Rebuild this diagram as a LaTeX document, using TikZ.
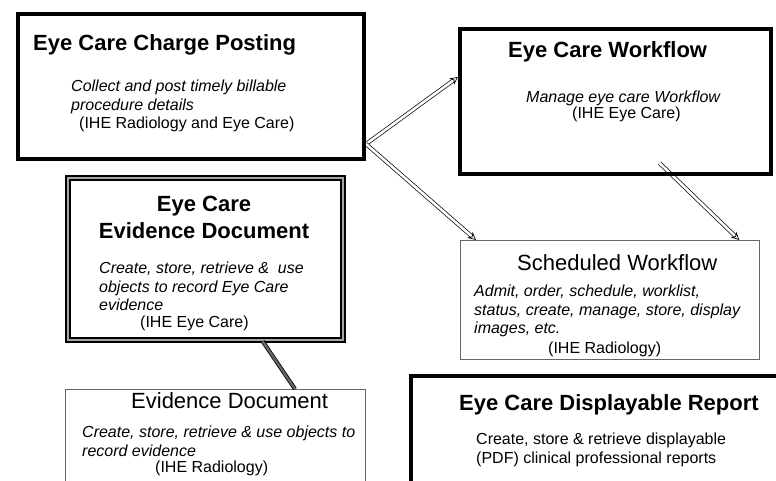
\documentclass[tikz,border=0pt]{standalone}
\usepackage{fontspec}
\setmainfont{Liberation Sans}
\usetikzlibrary{arrows.meta,backgrounds}

\begin{document}
\begin{tikzpicture}
  [x=1pt,y=-1pt,
   box/.style={draw,rectangle,anchor=north west,inner sep=0pt},
   heavy/.style={box,line width=4pt},
   light/.style={box,draw=black!60,line width=1.2pt},
   twin/.style={box,double=black!35,double distance=1.4pt,line width=2.3pt},
   txt/.style={anchor=north west,inner sep=0pt,align=left,font=\fontsize{16}{18.5}\selectfont},
   desc/.style={txt,font=\fontsize{16}{18.5}\selectfont\itshape},
   head/.style={txt,font=\fontsize{22}{27}\selectfont\bfseries},
   plain/.style={txt,font=\fontsize{22}{27}\selectfont},
   hollow/.style={line width=.7pt,double=white,double distance=2.6pt,
                  -{Stealth[open,length=8pt,width=8pt]}}]
  \clip (0,0) rectangle (776,481);

  % boxes
  \node[heavy,minimum width=346,minimum height=145] (cp) at (16,12) {};
  \node[heavy,minimum width=311,minimum height=145] (wf) at (458,27) {};
  \node[twin,minimum width=275,minimum height=162] (ec) at (67,177) {};
  \node[light,minimum width=299,minimum height=119] (sw) at (460,240) {};
  \node[heavy,minimum width=400,minimum height=140] (dr) at (409,374) {};
  \node[light,minimum width=300,minimum height=120] (ed) at (65,389) {};

  % texts
  \node[head] (cpT) at (33,34) {Eye Care Charge Posting};
  \node[desc] (cpD) at (71,80) {Collect and post timely billable\\procedure details};
  \node[txt] (cpS) at (79,117) {(IHE Radiology and Eye Care)};

  \node[head] (wfT) at (508,41) {Eye Care Workflow};
  \node[desc] (wfD) at (526,91) {Manage eye care Workflow};
  \node[txt] (wfS) at (572,107) {(IHE Eye Care)};

  \node[head,anchor=north,align=center] (ecT) at (204,196) {Eye Care\\Evidence Document};
  \node[desc] (ecD) at (99,262) {Create, store, retrieve \&\ \ use\\objects to record Eye Care\\evidence};
  \node[txt] (ecS) at (140,316) {(IHE Eye Care)};

  \node[plain] (swT) at (517,254) {Scheduled Workflow};
  \node[desc] (swD) at (474,285) {Admit, order, schedule, worklist,\\status, create, manage, store, display\\images, etc.};
  \node[txt] (swS) at (548,342) {(IHE Radiology)};

  \node[head] (drT) at (459,394) {Eye Care Displayable Report};
  \node[txt] (drD) at (476,433) {Create, store \& retrieve displayable\\(PDF) clinical professional reports};

  \node[plain] (edT) at (131,392) {Evidence Document};
  \node[desc] (edD) at (82,426) {Create, store, retrieve \& use objects to\\record evidence};
  \node[txt] (edS) at (155,461) {(IHE Radiology)};

  % connector ends
  \coordinate (cpout) at ([yshift=17pt]cp.south east);
  \coordinate (wfin) at ([yshift=-50pt]wf.north west);
  \coordinate (swleft) at ([xshift=16pt]sw.north west);
  \coordinate (wfout) at ([xshift=44pt,yshift=13pt]wf.south);
  \coordinate (swright) at ([xshift=-21pt]sw.north east);
  \coordinate (ecout) at ([xshift=57pt]ec.south);
  \coordinate (edin) at ([xshift=230pt]ed.north west);

  \begin{scope}[on background layer]
  \foreach \from/\to in {cpout/wfin,cpout/swleft,wfout/swright}
    \draw[hollow] (\from) -- (\to);
  \end{scope}
  \draw[line width=.8pt,double=black!60,double distance=2.4pt] (ecout) -- (edin);
\end{tikzpicture}
\end{document}
